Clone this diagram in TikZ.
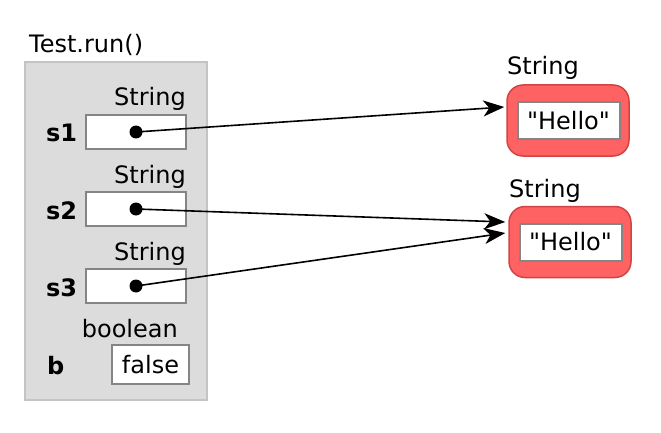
\documentclass[tikz,border=0pt]{standalone}
\usepackage{fontspec}
\setmainfont{DejaVu Sans}
\newfontfamily\hellofont{DejaVu Sans}[Ligatures=TeXOff]
\usetikzlibrary{arrows.meta}
\definecolor{framegray}{HTML}{DCDCDC}
\definecolor{frameedge}{HTML}{C4C4C4}
\definecolor{boxedge}{HTML}{858585}
\definecolor{objred}{HTML}{FF6262}
\definecolor{objedge}{HTML}{D24444}
\begin{document}
\begin{tikzpicture}[x=1pt,y=-1pt,
  every node/.style={font=\fontsize{24}{28}\selectfont, inner sep=0pt},
  lbl/.style={anchor=base west},
  typ/.style={anchor=base east},
  slot/.style={draw=boxedge, line width=1.5pt, fill=white, minimum width=100pt, minimum height=34pt},
  obj/.style={draw=objedge, line width=1.5pt, fill=objred, rounded corners=16pt, minimum width=122pt, minimum height=71pt},
  inner/.style={draw=boxedge, line width=2pt, fill=white, minimum width=102pt, minimum height=37pt, font=\fontsize{24}{28}\hellofont},
  dotc/.style={circle, fill=black, minimum size=13pt},
  ref/.style={line width=1.6pt, -{Stealth[length=21pt, width=16pt, inset=6pt]}}
]
\useasboundingbox (0,0) rectangle (661,433);
% frame
\node[lbl] (title) at (29,53) {Test.run()};
\node[draw=frameedge, line width=1.5pt, fill=framegray, minimum width=182pt, minimum height=338pt] (frame) at (116,231) {};
% s1
\node[typ] (t1) at (186,106) {String};
\node[lbl, font=\fontsize{24}{28}\selectfont\bfseries] (n1) at (46,142) {s1};
\node[slot] (b1) at (136,132) {};
\node[dotc] (d1) at (136,132) {};
% s2
\node[typ] (t2) at (186,183) {String};
\node[lbl, font=\fontsize{24}{28}\selectfont\bfseries] (n2) at (46,219) {s2};
\node[slot] (b2) at (136,209) {};
\node[dotc] (d2) at (136,209) {};
% s3
\node[typ] (t3) at (186,260) {String};
\node[lbl, font=\fontsize{24}{28}\selectfont\bfseries] (n3) at (46,296) {s3};
\node[slot] (b3) at (136,286) {};
\node[dotc] (d3) at (136,286) {};
% b
\node[typ] (t4) at (178,337) {boolean};
\node[lbl, font=\fontsize{24}{28}\selectfont\bfseries] (n4) at (47,374) {b};
\node[slot, minimum width=77pt, minimum height=39pt] (b4) at (150.5,364.5) {false};
% objects
\node[lbl] (ot1) at (507,75) {String};
\node[obj] (r1) at (568,120.5) {};
\node[inner] (h1) at (568.5,121) {"Hello"};
\node[lbl] (ot2) at (509,197) {String};
\node[obj] (r2) at (570,242) {};
\node[inner] (h2) at (570.5,242) {"Hello"};
% arrows
\draw[ref] (d1.center) -- ([xshift=-2pt,yshift=13.5pt]r1.west);
\draw[ref] (d2.center) -- ([xshift=-3pt,yshift=20pt]r2.west);
\draw[ref] (d3.center) -- ([xshift=-3pt,yshift=9pt]r2.west);
\end{tikzpicture}
\end{document}
